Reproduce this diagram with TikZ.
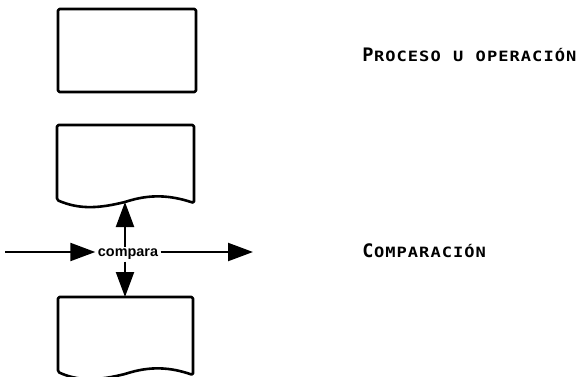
\documentclass[tikz,border=0pt]{standalone}
\usepackage{fontspec}
\setmainfont{Liberation Sans}
\newfontfamily\labelfont{DejaVu Sans Mono}
\usetikzlibrary{arrows.meta}

% fixed-pitch lettering: every character sits in a widened cell of equal width
\newlength\cellw
\setlength\cellw{11.3pt}
\makeatletter
\def\trk#1{\trk@loop#1\relax}
\def\trk@loop#1{\ifx#1\relax\else\makebox[\cellw][c]{\scalebox{1.2}[1]{#1}}\expandafter\trk@loop\fi}
\makeatother
\newcommand\initcap[1]{{\fontsize{18.6}{20}\selectfont\makebox[\cellw][c]{#1}}}
\newcommand\lowcaps[1]{{\fontsize{14.2}{15}\selectfont\trk{#1}}}

\begin{document}
\begin{tikzpicture}[x=1pt,y=-1pt,
  shape line/.style={line width=2.6pt, rounded corners=1.5pt, line join=round},
  flow/.style={line width=2.2pt, -{Triangle[length=25pt,width=18pt]}},
  caption/.style={anchor=base west, inner sep=0pt, font=\labelfont\bfseries},
  word/.style={font=\fontsize{14.4}{16}\selectfont\bfseries, inner xsep=2.5pt, inner ysep=2pt, fill=white}
]
\useasboundingbox (0,0) rectangle (583,377);

% process box
\node[draw, shape line, minimum width=138pt, minimum height=83pt, inner sep=0pt] (proc) at (127,50.5) {};

% upper document shape
\draw[shape line] (57,200) -- (57,125) -- (194,125) -- (194,203)
  .. controls (170,195) and (150,194) .. (125,202)
  .. controls (100,208) and (80,210) .. cycle;
\coordinate (w2) at (125,202);

% lower document shape (cut by the page edge)
\draw[shape line] (58,372) -- (58,297) -- (193,297) -- (193,375)
  .. controls (170,367) and (150,366) .. (125,374)
  .. controls (100,380) and (80,382) .. cycle;
\coordinate (t3) at (125,297);

% comparison node and its connectors
\node[word, anchor=base] (cmp) at (128,256.5) {compara};
\coordinate (inL) at (5,252);
\coordinate (outR) at (253,252);
\draw[flow] (inL) -- (cmp.west |- inL);
\draw[flow] (cmp.east |- outR) -- (outR);
\draw[flow] (cmp.north -| w2) -- (w2);
\draw[flow] (cmp.south -| t3) -- (t3);

% captions
\node[caption] (capA) at (362,62) {\initcap{P}\lowcaps{ROCESO~U~OPERACIÓN}};
\node[caption] (capB) at (362,257) {\initcap{C}\lowcaps{OMPARACIÓN}};
\end{tikzpicture}
\end{document}
